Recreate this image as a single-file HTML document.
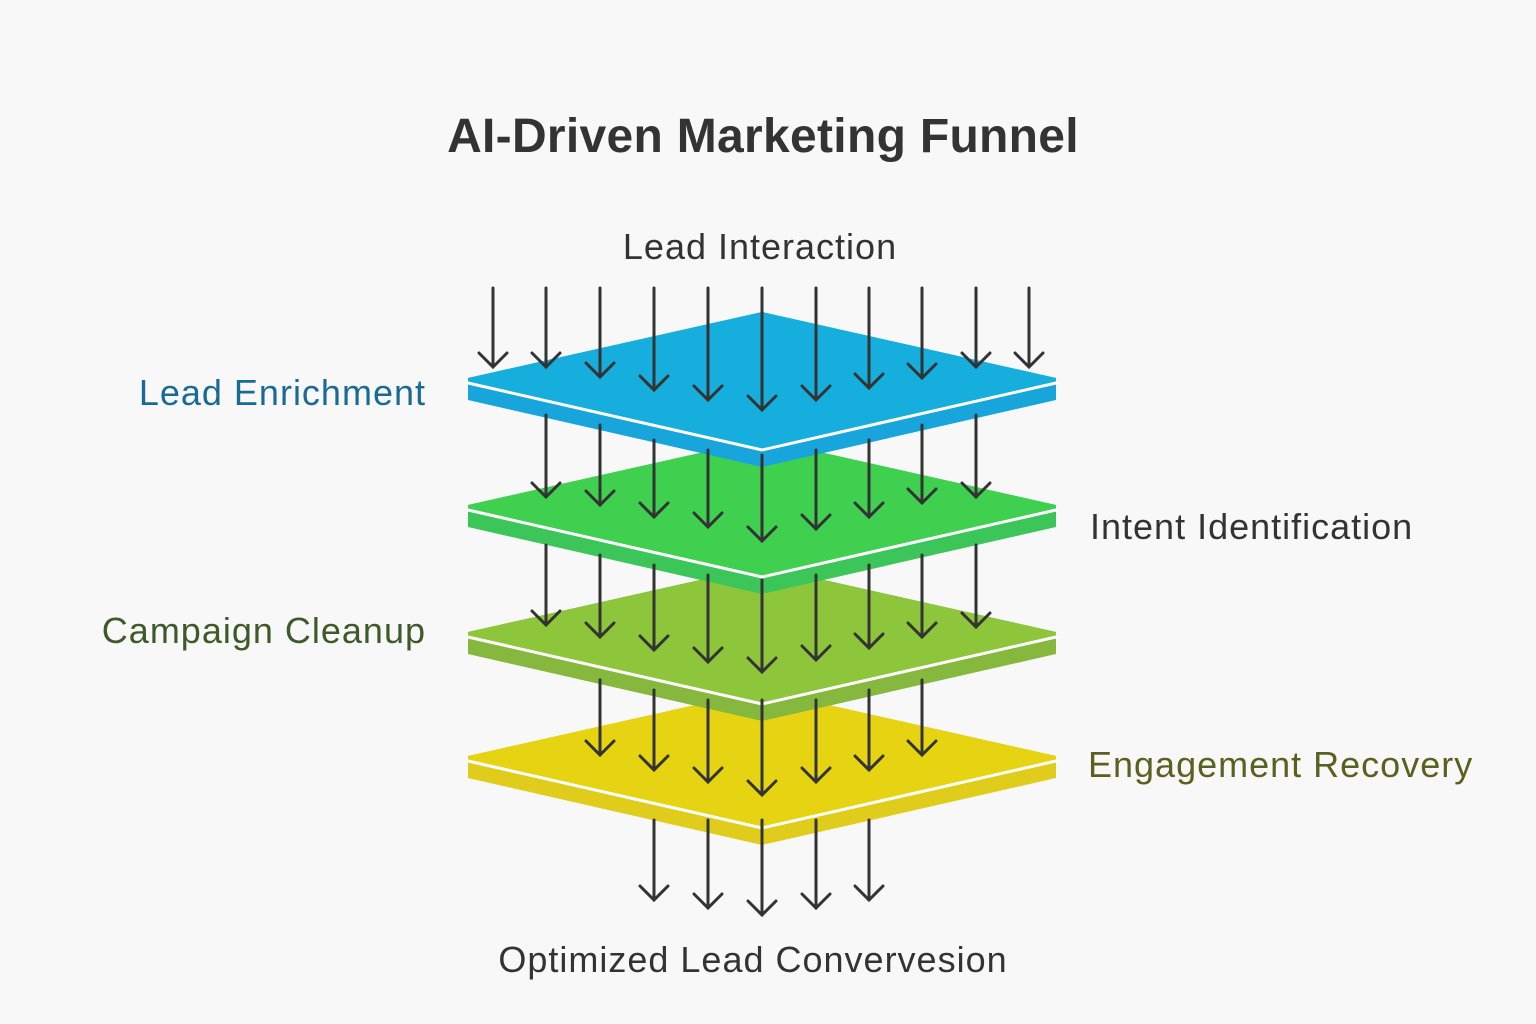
<!DOCTYPE html>
<html><head><meta charset="utf-8"><style>
html,body{margin:0;padding:0;background:#f8f8f8;}
svg{display:block;}
text{font-family:"Liberation Sans",sans-serif;}
.l{letter-spacing:1px;}
</style></head><body>
<svg width="1536" height="1024" viewBox="0 0 1536 1024">
<rect width="1536" height="1024" fill="#f8f8f8"/>
<text x="763" y="152" text-anchor="middle" font-size="48" font-weight="bold" fill="#333" letter-spacing="0.3">AI-Driven Marketing Funnel</text>
<text class="l" x="760" y="259" text-anchor="middle" font-size="36" fill="#333">Lead Interaction</text>
<text class="l" x="426" y="405" text-anchor="end" font-size="36" fill="#1a6a96">Lead Enrichment</text>
<text class="l" x="1090" y="539" font-size="36" fill="#333" letter-spacing="1.6">Intent Identification</text>
<text class="l" x="426" y="643" text-anchor="end" font-size="36" fill="#3f5a2a">Campaign Cleanup</text>
<text class="l" x="1088" y="777" font-size="36" fill="#5a6020">Engagement Recovery</text>
<text class="l" x="753" y="972" text-anchor="middle" font-size="36" fill="#333">Optimized Lead Convervesion</text>

<g stroke-linecap="round">
<g transform="translate(0,378)">
<polygon points="468,378 762,312 1056,378 1056,400 762,467 468,400" fill="#e0cc1a"/>
<polygon points="468,378 762,312 1056,378 1056,383 762,450 468,383" fill="#e6d412"/>
<polyline points="468,383 762,450 1056,383" fill="none" stroke="#fff" stroke-width="3"/>
</g>
<g stroke="#333" stroke-width="3" fill="none">
<path d="M654,820V900M640,886L654,900L668,886"/>
<path d="M708,820V908M694,894L708,908L722,894"/>
<path d="M762,820V915M748,901L762,915L776,901"/>
<path d="M816,820V908M802,894L816,908L830,894"/>
<path d="M869,820V900M855,886L869,900L883,886"/>
</g>
<g transform="translate(0,254)">
<polygon points="468,378 762,312 1056,378 1056,400 762,467 468,400" fill="#86b83e"/>
<polygon points="468,378 762,312 1056,378 1056,383 762,450 468,383" fill="#8dc63a"/>
<polyline points="468,383 762,450 1056,383" fill="none" stroke="#fff" stroke-width="3"/>
</g>
<g stroke="#333" stroke-width="3" fill="none">
<path d="M600,680V755M586,741L600,755L614,741"/>
<path d="M654,690V770M640,756L654,770L668,756"/>
<path d="M708,700V782M694,768L708,782L722,768"/>
<path d="M762,700V795M748,781L762,795L776,781"/>
<path d="M816,700V782M802,768L816,782L830,768"/>
<path d="M869,690V770M855,756L869,770L883,756"/>
<path d="M922,680V755M908,741L922,755L936,741"/>
</g>
<g transform="translate(0,127)">
<polygon points="468,378 762,312 1056,378 1056,400 762,467 468,400" fill="#3cc65a"/>
<polygon points="468,378 762,312 1056,378 1056,383 762,450 468,383" fill="#40d050"/>
<polyline points="468,383 762,450 1056,383" fill="none" stroke="#fff" stroke-width="3"/>
</g>
<g stroke="#333" stroke-width="3" fill="none">
<path d="M546,545V625M532,611L546,625L560,611"/>
<path d="M600,555V637M586,623L600,637L614,623"/>
<path d="M654,565V650M640,636L654,650L668,636"/>
<path d="M708,575V662M694,648L708,662L722,648"/>
<path d="M762,580V672M748,658L762,672L776,658"/>
<path d="M816,575V660M802,646L816,660L830,646"/>
<path d="M869,565V648M855,634L869,648L883,634"/>
<path d="M922,555V637M908,623L922,637L936,623"/>
<path d="M976,545V627M962,613L976,627L990,613"/>
</g>
<polygon points="468,378 762,312 1056,378 1056,400 762,467 468,400" fill="#17a5db"/>
<polygon points="468,378 762,312 1056,378 1056,383 762,450 468,383" fill="#16aedd"/>
<polyline points="468,383 762,450 1056,383" fill="none" stroke="#fff" stroke-width="3"/>
<g stroke="#333" stroke-width="3" fill="none">
<path d="M546,415V497M532,483L546,497L560,483"/>
<path d="M600,425V505M586,491L600,505L614,491"/>
<path d="M654,440V517M640,503L654,517L668,503"/>
<path d="M708,450V527M694,513L708,527L722,513"/>
<path d="M762,455V541M748,527L762,541L776,527"/>
<path d="M816,450V529M802,515L816,529L830,515"/>
<path d="M869,440V517M855,503L869,517L883,503"/>
<path d="M922,425V503M908,489L922,503L936,489"/>
<path d="M976,415V497M962,483L976,497L990,483"/>
</g>
<g stroke="#333" stroke-width="3" fill="none">
<path d="M493,288V367M479,353L493,367L507,353"/>
<path d="M546,288V367M532,353L546,367L560,353"/>
<path d="M600,288V377M586,363L600,377L614,363"/>
<path d="M654,288V390M640,376L654,390L668,376"/>
<path d="M708,288V400M694,386L708,400L722,386"/>
<path d="M762,288V410M748,396L762,410L776,396"/>
<path d="M816,288V400M802,386L816,400L830,386"/>
<path d="M869,288V388M855,374L869,388L883,374"/>
<path d="M922,288V378M908,364L922,378L936,364"/>
<path d="M976,288V367M962,353L976,367L990,353"/>
<path d="M1029,288V367M1015,353L1029,367L1043,353"/>
</g>
</g>
</svg>
</body></html>
